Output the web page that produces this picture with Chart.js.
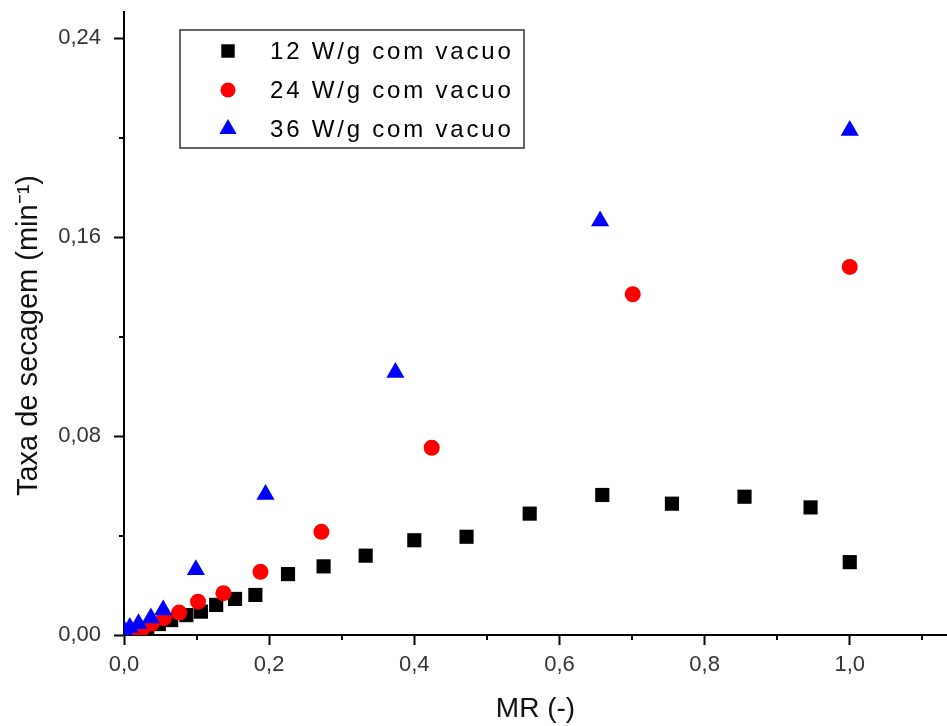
<!DOCTYPE html>
<html>
<head>
<meta charset="utf-8">
<script src="https://cdn.jsdelivr.net/npm/chart.js@4.4.1/dist/chart.umd.min.js"></script>
<style>
  html, body { margin: 0; padding: 0; background: #fff; }
  #wrap { width: 947px; height: 726px; }
</style>
</head>
<body>
<div id="wrap"><canvas id="taxaChart" width="947" height="726"></canvas></div>
<script>
// Series (MR vs drying rate)
const mr12 = [1.0, 0.946, 0.855, 0.755, 0.659, 0.559, 0.472, 0.400, 0.333, 0.275, 0.226, 0.181, 0.153, 0.127, 0.106, 0.086, 0.065, 0.048, 0.032, 0.018];
const taxa12 = [0.0293, 0.0513, 0.0556, 0.0528, 0.0563, 0.0488, 0.0395, 0.0381, 0.0319, 0.0276, 0.0245, 0.0161, 0.0145, 0.0121, 0.0094, 0.0080, 0.0060, 0.0044, 0.0028, 0.0016];

const mr24 = [1.0, 0.701, 0.424, 0.272, 0.188, 0.137, 0.102, 0.076, 0.055, 0.038, 0.025, 0.014];
const taxa24 = [0.148, 0.137, 0.0753, 0.0415, 0.0254, 0.0168, 0.0134, 0.0090, 0.0068, 0.0046, 0.0025, 0.0008];

const mr36 = [1.0, 0.656, 0.374, 0.195, 0.099, 0.054, 0.037, 0.020, 0.008, 0.0];
const taxa36 = [0.2029, 0.1665, 0.1055, 0.0565, 0.0262, 0.0101, 0.0068, 0.0045, 0.0030, 0.0020];

const seriesLabels = ['12 W/g com vacuo', '24 W/g com vacuo', '36 W/g com vacuo'];

const FONT = "'Liberation Sans', Arial, sans-serif";

function toPoints(xs, ys) {
    return xs.map((x, i) => ({ x: x, y: ys[i] }));
}

// Major ticks are drawn by Chart.js; minor ones (every other step) drawn here shorter
const minorTicks = {
    id: 'minorTicks',
    afterDraw(chart) {
        const ctx = chart.ctx;
        ctx.save();
        ctx.strokeStyle = '#000';
        ctx.lineWidth = 2;
        const xs = chart.scales.x, ys = chart.scales.y;
        xs.ticks.forEach((t, i) => {
            if (i % 2 === 1) {
                const px = Math.round(xs.getPixelForValue(t.value));
                ctx.beginPath();
                ctx.moveTo(px, xs.top);
                ctx.lineTo(px, xs.top + 5);
                ctx.stroke();
            }
        });
        ys.ticks.forEach((t, i) => {
            if (i % 2 === 1) {
                const py = Math.round(ys.getPixelForValue(t.value));
                ctx.beginPath();
                ctx.moveTo(ys.right, py);
                ctx.lineTo(ys.right - 5, py);
                ctx.stroke();
            }
        });
        ctx.restore();
    }
};

// Boxed legend inside the plot, top left
const boxLegend = {
    id: 'boxLegend',
    afterDraw(chart) {
        const ctx = chart.ctx;
        const left = 180, top = 30, w = 344, h = 118;
        ctx.save();
        ctx.fillStyle = '#fff';
        ctx.fillRect(left, top, w, h);
        ctx.strokeStyle = '#333';
        ctx.lineWidth = 1.5;
        ctx.strokeRect(left, top, w, h);
        ctx.font = '24px ' + FONT;
        ctx.letterSpacing = '2.8px';
        ctx.textBaseline = 'middle';
        const rows = [51, 90, 129];
        chart.data.datasets.forEach((ds, i) => {
            const y = rows[i];
            ctx.fillStyle = ds.backgroundColor;
            ctx.strokeStyle = ds.borderColor;
            Chart.helpers.drawPoint(ctx, {
                pointStyle: ds.pointStyle,
                radius: ds.legendRadius,
                borderWidth: 0
            }, 228, y);
            ctx.fillStyle = '#000';
            ctx.fillText(ds.label, 270, y + 1);
        });
        ctx.restore();
    }
};

const ctx = document.getElementById('taxaChart').getContext('2d');
const chart = new Chart(ctx, {
    type: 'scatter',
    data: {
        datasets: [
            {
                label: seriesLabels[0],
                data: toPoints(mr12, taxa12),
                pointStyle: 'rect',
                pointRadius: 10,
                legendRadius: 9.5,
                backgroundColor: '#000000',
                borderColor: '#000000',
                borderWidth: 0,
                order: 2
            },
            {
                label: seriesLabels[1],
                data: toPoints(mr24, taxa24),
                pointStyle: 'circle',
                pointRadius: 8,
                legendRadius: 7.5,
                backgroundColor: '#ff0000',
                borderColor: '#ff0000',
                borderWidth: 0,
                order: 1
            },
            {
                label: seriesLabels[2],
                data: toPoints(mr36, taxa36),
                pointStyle: 'triangle',
                pointRadius: 10.5,
                legendRadius: 10,
                backgroundColor: '#0000ff',
                borderColor: '#0000ff',
                borderWidth: 0,
                order: 0
            }
        ]
    },
    options: {
        responsive: false,
        animation: false,
        layout: { autoPadding: false, padding: { top: 12, right: 0, left: 0, bottom: 0 } },
        plugins: {
            legend: { display: false },
            tooltip: { enabled: false }
        },
        scales: {
            x: {
                type: 'linear',
                min: 0,
                max: 1.134,
                afterFit(scale) {
                    scale.height = 91;
                    scale.paddingRight = 0;
                    scale.paddingLeft = 0;
                },
                border: { display: true, color: '#000', width: 2 },
                grid: {
                    drawOnChartArea: false,
                    drawTicks: true,
                    tickLength: 10,
                    tickWidth: 2,
                    tickColor: c => (c.index % 2 === 1 ? 'rgba(0,0,0,0)' : '#000')
                },
                ticks: {
                    stepSize: 0.1,
                    includeBounds: false,
                    autoSkip: false,
                    maxRotation: 0,
                    padding: 7,
                    color: '#333',
                    font: { family: FONT, size: 22 },
                    callback: (v, i) => (i % 2 === 0 ? v.toFixed(1).replace('.', ',') : '')
                },
                title: {
                    display: true,
                    text: 'MR (-)',
                    color: '#111',
                    font: { family: FONT, size: 28 },
                    padding: { top: 0, bottom: 0 }
                }
            },
            y: {
                type: 'linear',
                min: 0,
                max: 0.2505,
                afterFit(scale) {
                    scale.width = 124;
                    scale.paddingTop = 0;
                    scale.paddingBottom = 0;
                },
                border: { display: true, color: '#000', width: 2 },
                grid: {
                    drawOnChartArea: false,
                    drawTicks: true,
                    tickLength: 10,
                    tickWidth: 2,
                    tickColor: c => (c.index % 2 === 1 ? 'rgba(0,0,0,0)' : '#000')
                },
                ticks: {
                    stepSize: 0.04,
                    includeBounds: false,
                    autoSkip: false,
                    padding: 13,
                    color: '#333',
                    font: { family: FONT, size: 22 },
                    callback: (v, i) => (i % 2 === 0 ? v.toFixed(2).replace('.', ',') : '')
                },
                title: {
                    display: true,
                    text: 'Taxa de secagem (min⁻¹)\u00A0\u00A0\u00A0',
                    color: '#111',
                    font: { family: FONT, size: 29 },
                    padding: { top: 12, bottom: 0 }
                }
            }
        }
    },
    plugins: [minorTicks, boxLegend]
});
</script>
</body>
</html>
